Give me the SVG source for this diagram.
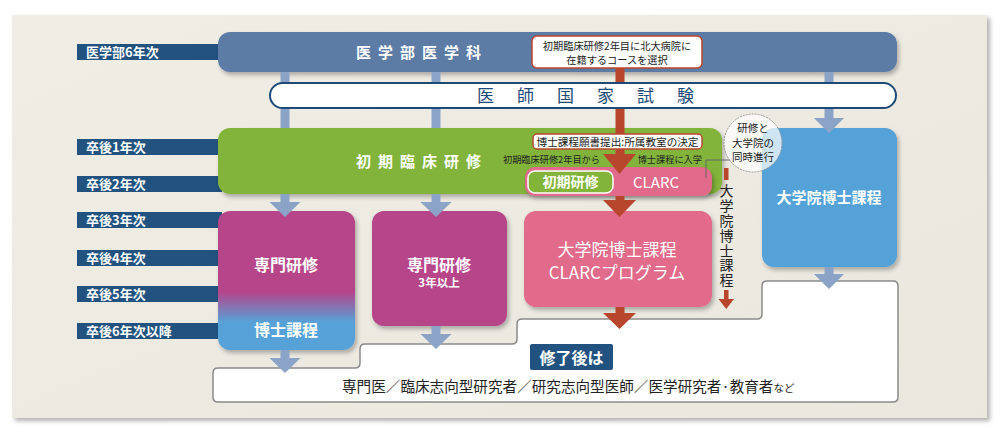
<svg xmlns="http://www.w3.org/2000/svg" width="1000" height="437" viewBox="0 0 1000 437">
<defs>
<filter id="sh" x="-10%" y="-10%" width="130%" height="140%"><feDropShadow dx="2" dy="3" stdDeviation="2" flood-color="#000" flood-opacity="0.28"/></filter>
<filter id="psh" x="-5%" y="-5%" width="110%" height="115%"><feDropShadow dx="3" dy="3" stdDeviation="2" flood-color="#000" flood-opacity="0.3"/></filter>
<linearGradient id="gradL" x1="0" y1="0" x2="0" y2="1">
<stop offset="0" stop-color="#b6448a"/>
<stop offset="0.58" stop-color="#b6448a"/>
<stop offset="0.8" stop-color="#57a2d8"/>
<stop offset="1" stop-color="#57a2d8"/>
</linearGradient>
<linearGradient id="panelG" x1="0" y1="0" x2="1" y2="1">
<stop offset="0" stop-color="#efede4"/>
<stop offset="1" stop-color="#e9e7de"/>
</linearGradient>
</defs>
<style>
text{font-family:"Noto Sans CJK JP","Noto Sans",sans-serif;}
.yl{fill:#22527f;}
.ylt{fill:#fff;font-size:13px;font-weight:bold;}
.wb{fill:#fff;font-weight:bold;}
.dk{fill:#222;}
.ga{fill:#8aa3c6;}
.ra{fill:#b8462c;}
</style>
<rect x="0" y="0" width="1000" height="437" fill="#fff"/>
<rect x="12" y="15" width="975" height="403" fill="url(#panelG)" filter="url(#psh)"/>

<g id="year-labels">
<rect class="yl" x="77" y="44" width="145" height="16"/><text class="ylt" x="86" y="57">医学部6年次</text>
<rect class="yl" x="77" y="139" width="145" height="16"/><text class="ylt" x="86" y="152">卒後1年次</text>
<rect class="yl" x="77" y="176" width="145" height="16"/><text class="ylt" x="86" y="189">卒後2年次</text>
<rect class="yl" x="77" y="212" width="145" height="16"/><text class="ylt" x="86" y="225">卒後3年次</text>
<rect class="yl" x="77" y="250" width="145" height="16"/><text class="ylt" x="86" y="263">卒後4年次</text>
<rect class="yl" x="77" y="286" width="145" height="16"/><text class="ylt" x="86" y="299">卒後5年次</text>
<rect class="yl" x="77" y="323" width="145" height="16"/><text class="ylt" x="86" y="336">卒後6年次以降</text>
</g>

<g id="igakubu">
<rect x="218" y="32" width="679" height="40" rx="12" fill="#5b7ca6" filter="url(#sh)"/>
<text class="wb" x="356" y="58" font-size="15" letter-spacing="7">医学部医学科</text>
</g>

<g id="shoki-kenshu">
<rect x="218" y="128" width="504" height="66" rx="12" fill="#82b43a" filter="url(#sh)"/>
<text class="wb" x="356" y="167" font-size="15" letter-spacing="7">初期臨床研修</text>
</g>

<g id="senmon-hakase">
<rect x="218" y="211" width="137" height="139" rx="12" fill="url(#gradL)" filter="url(#sh)"/>
<text class="wb" x="286" y="271" font-size="16" text-anchor="middle">専門研修</text>
<text class="wb" x="286" y="336" font-size="16" text-anchor="middle">博士課程</text>
</g>

<g id="senmon-3nen">
<rect x="372" y="211" width="135" height="115" rx="12" fill="#b6448a" filter="url(#sh)"/>
<text class="wb" x="439" y="271" font-size="16" text-anchor="middle">専門研修</text>
<text class="wb" x="439" y="287" font-size="11.5" text-anchor="middle">3年以上</text>
</g>

<g id="clarc-program">
<rect x="524" y="211" width="188" height="96" rx="12" fill="#e26a8a" filter="url(#sh)"/>
<text font-size="17" fill="#fff" text-anchor="middle"><tspan x="617" y="256">大学院博士課程</tspan><tspan x="617" y="279">CLARCプログラム</tspan></text>
</g>

<g id="daigakuin">
<rect x="762" y="128" width="135" height="139" rx="12" fill="#55a2d8" filter="url(#sh)"/>
<text class="wb" x="829" y="203" font-size="15" text-anchor="middle">大学院博士課程</text>
</g>

<g id="clarc-pill">
<rect x="525" y="167" width="187" height="29" rx="10" fill="#e26a8a" filter="url(#sh)"/>
<rect x="528" y="171" width="85" height="22" rx="7" fill="#82b43a" stroke="#fff" stroke-width="1.5"/>
<text class="wb" x="570.5" y="187" font-size="14" text-anchor="middle">初期研修</text>
<text x="656" y="188" font-size="15" fill="#fff" text-anchor="middle">CLARC</text>
</g>

<g id="result">
<path d="M218 368 H355 Q360 368 360 363 V349 Q360 344 365 344 H512 Q517 344 517 339 V324 Q517 319 522 319 H757 Q762 319 762 314 V286 Q762 281 767 281 H893 Q898 281 898 286 V397 Q898 402 893 402 H218 Q213 402 213 397 V373 Q213 368 218 368 Z" fill="#fff" stroke="#8a8a8a" stroke-width="1.5"/>
<rect x="530" y="344" width="83" height="26" rx="2" fill="#22527f"/>
<text class="wb" x="571.5" y="364" font-size="16" text-anchor="middle">修了後は</text>
<text class="dk" x="342" y="392" font-size="14.6">専門医／臨床志向型研究者／研究志向型医師／医学研究者·教育者<tspan font-size="10.5">など</tspan></text>
</g>

<g id="connectors">
<polygon class="ga" points="280.5,72 289.5,72 289.5,128 280.5,128"/>
<polygon class="ga" points="431.5,72 440.5,72 440.5,128 431.5,128"/>
<polygon class="ga" points="824.5,72 833.5,72 833.5,118 844,118 829,133 814,118 824.5,118"/>
<polygon class="ga" points="280.5,194 289.5,194 289.5,202 300.5,202 285,217 269.5,202 280.5,202"/>
<polygon class="ga" points="431.5,194 440.5,194 440.5,202 451.5,202 436,217 420.5,202 431.5,202"/>
<polygon class="ga" points="280.5,350 289.5,350 289.5,358 300.5,358 285,373 269.5,358 280.5,358"/>
<polygon class="ga" points="431.5,326 440.5,326 440.5,334 451.5,334 436,349 420.5,334 431.5,334"/>
<polygon class="ga" points="824.5,267 833.5,267 833.5,274 844,274 829,289 814,274 824.5,274"/>
<polygon class="ra" points="615.5,68 624.5,68 624.5,154 636,154 619.5,174 603,154 615.5,154"/>
<polygon class="ra" points="615.5,196 624.5,196 624.5,200 636,200 619.5,217 603,200 615.5,200"/>
<polygon class="ra" points="615.5,307 624.5,307 624.5,313 636,313 619.5,329 603,313 615.5,313"/>
<rect class="ra" x="724" y="168" width="4.5" height="12"/>
<polygon class="ra" points="724,290 728.5,290 728.5,299 734,299 726.25,309 718.5,299 724,299"/>
<polyline points="706,178 706,160 732,160" fill="none" stroke="#666" stroke-width="1"/>
</g>

<g id="kokka-shiken">
<rect x="270" y="83" width="626" height="25" rx="12.5" fill="#fff" stroke="#1e4a78" stroke-width="2"/>
<text x="477" y="102" font-size="17" fill="#1e4a78" letter-spacing="23">医師国家試験</text>
</g>

<g id="callout-course">
<rect x="532" y="36" width="170" height="32" rx="5" fill="#fff" stroke="#b8462c" stroke-width="1.5"/>
<text class="dk" font-size="10.2" text-anchor="middle"><tspan x="617" y="49.5">初期臨床研修2年目に北大病院に</tspan><tspan x="617" y="63.5">在籍するコースを選択</tspan></text>
</g>

<g id="callout-gansho">
<rect x="533" y="134" width="169" height="15" rx="4" fill="#fff" stroke="#b8462c" stroke-width="1.5"/>
<text class="dk" x="617.5" y="146" font-size="10.6" text-anchor="middle">博士課程願書提出:所属教室の決定</text>
</g>

<g id="clarc-notes">
<text class="dk" x="503" y="163" font-size="9.2">初期臨床研修2年目から</text>
<text class="dk" x="702" y="163" font-size="9.2" text-anchor="end">博士課程に入学</text>
</g>

<g id="doji-shinko">
<circle cx="753" cy="143" r="29" fill="#fff" fill-opacity="0.72" stroke="#999" stroke-width="1" stroke-dasharray="2 1"/>
<text class="dk" font-size="10.5" text-anchor="middle"><tspan x="753" y="132">研修と</tspan><tspan x="753" y="147">大学院の</tspan><tspan x="753" y="161">同時進行</tspan></text>
</g>

<g id="vertical-label">
<text class="dk" x="726.5" y="184" font-size="14" letter-spacing="0.8" writing-mode="vertical-rl">大学院博士課程</text>
</g>
</svg>
